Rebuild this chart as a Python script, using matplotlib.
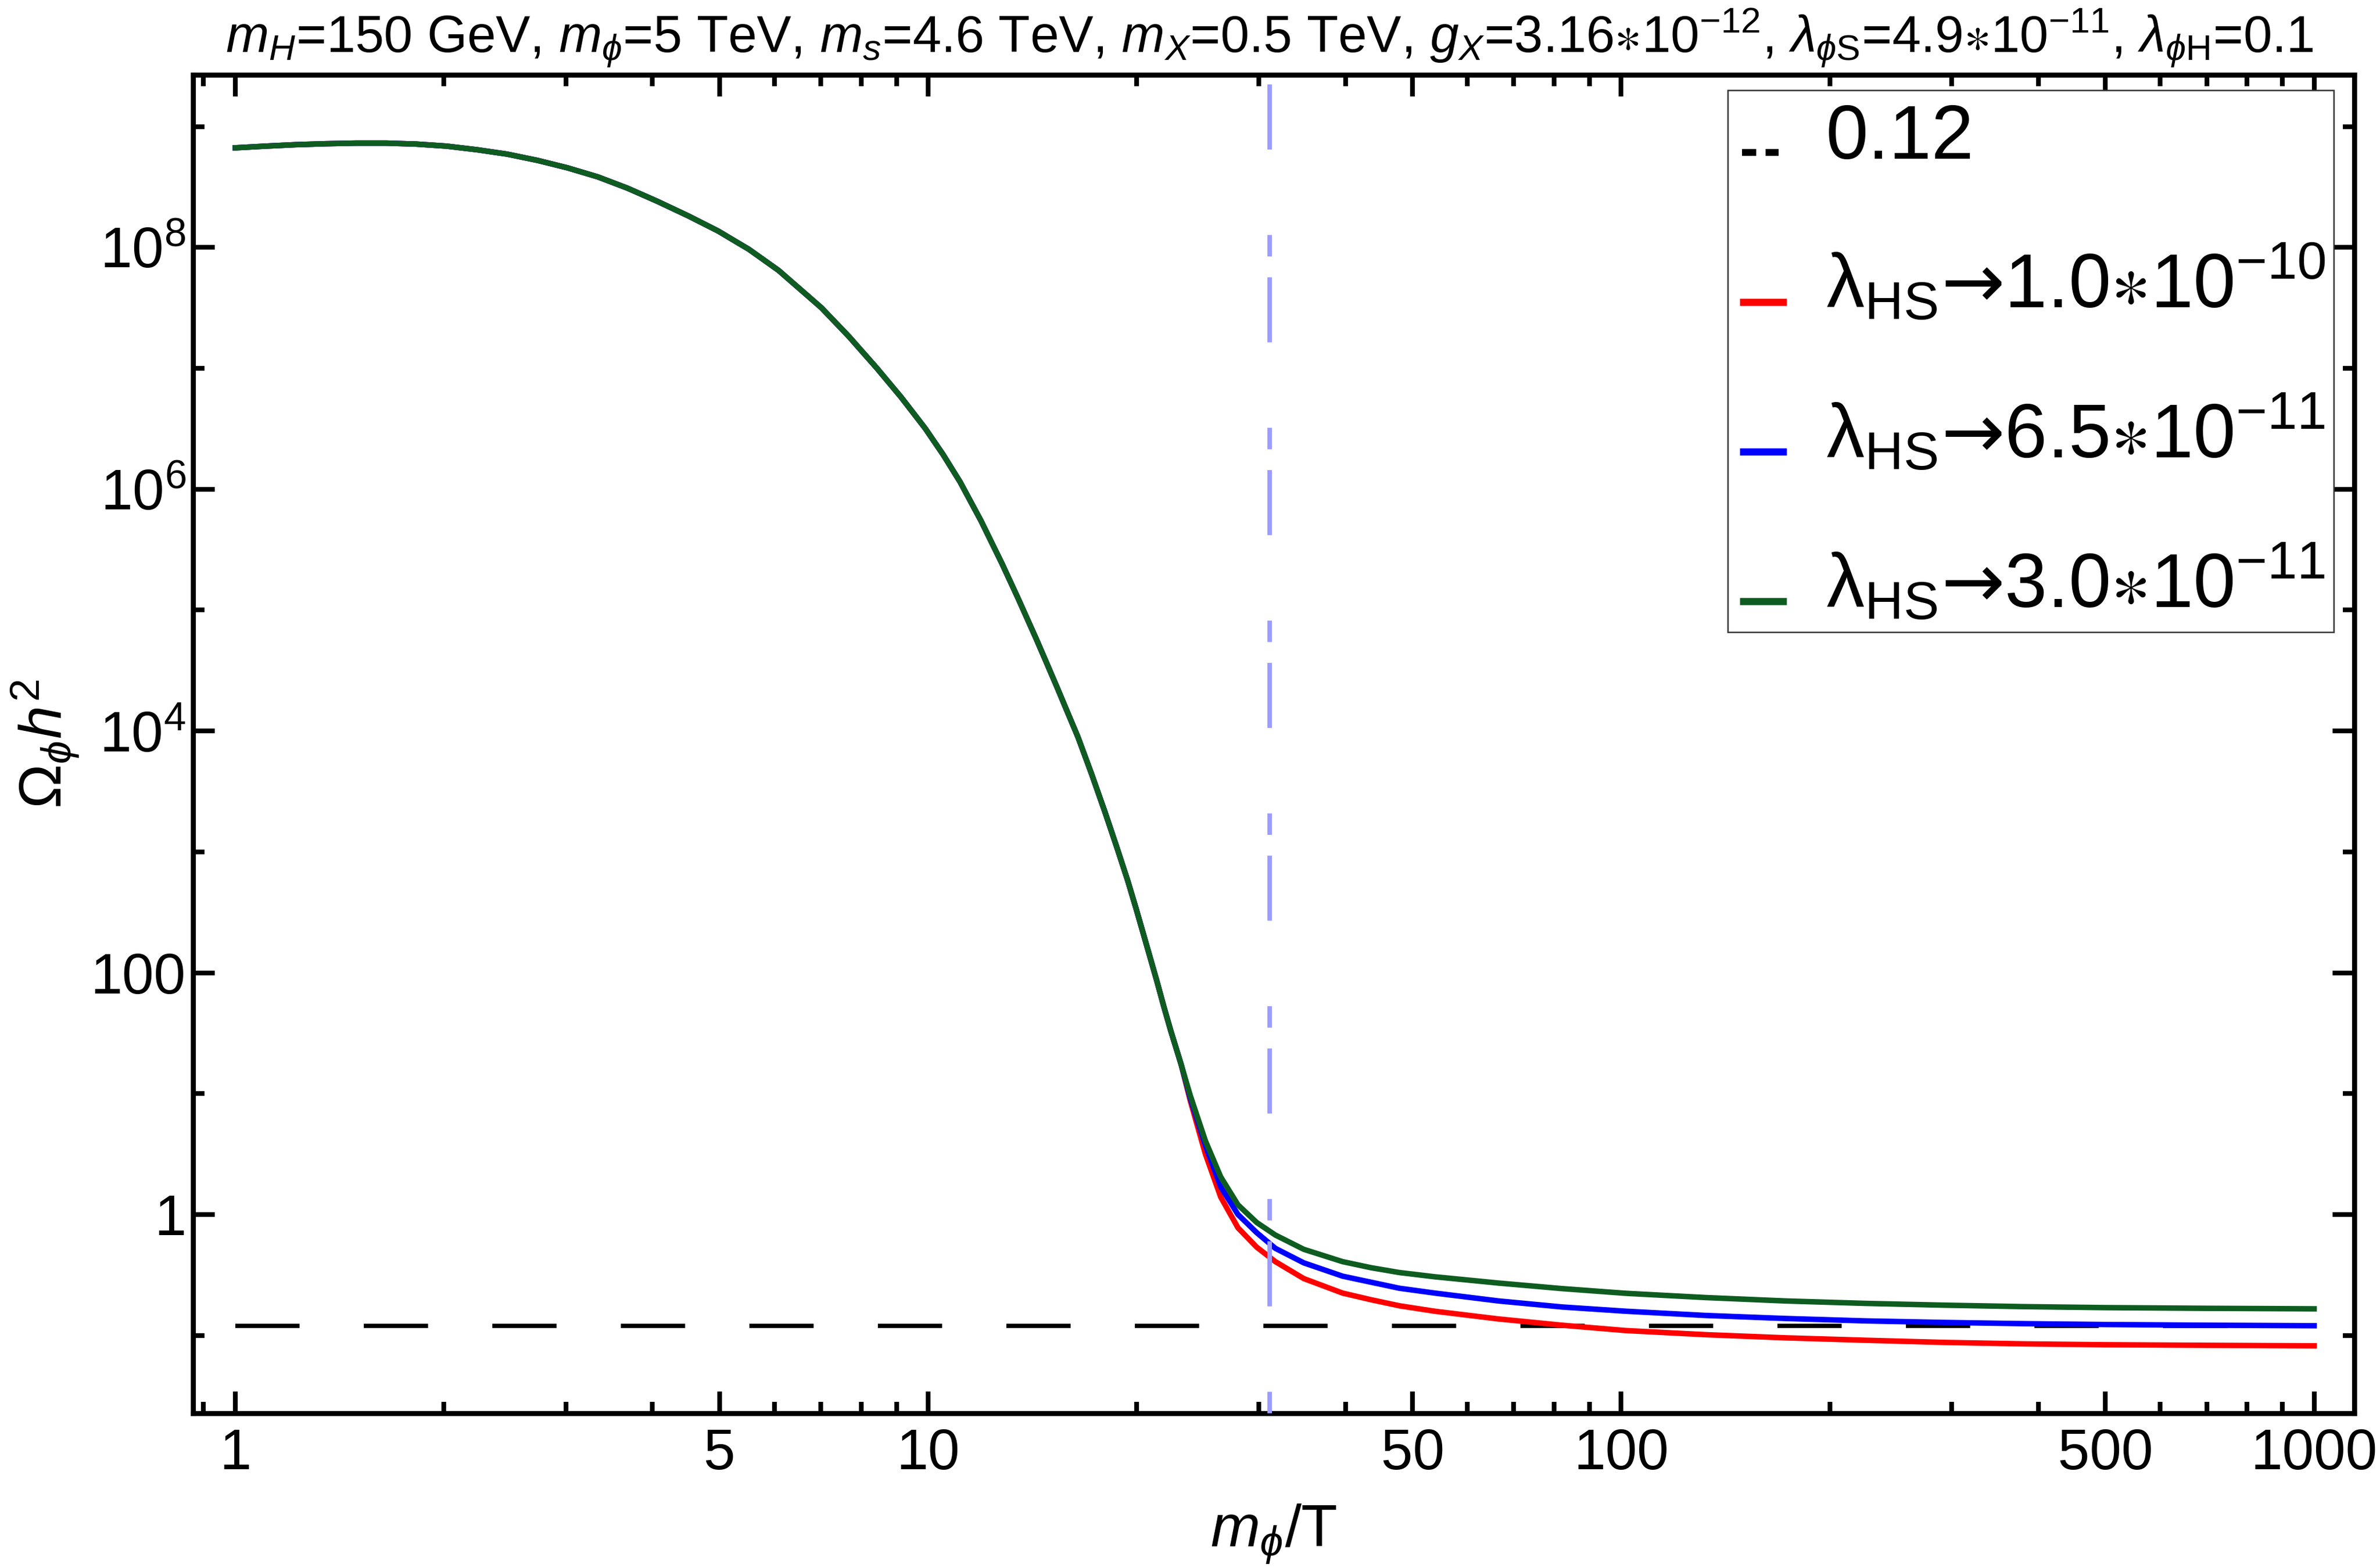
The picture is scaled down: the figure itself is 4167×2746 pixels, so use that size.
import numpy as np
import matplotlib
matplotlib.use('Agg')
import matplotlib.pyplot as plt
from matplotlib.lines import Line2D
from matplotlib.patches import Rectangle
from matplotlib.ticker import NullFormatter

# 字体设置（类似 Mathematica 的 Arial 风格）
plt.rcParams['font.family'] = ['Liberation Sans', 'DejaVu Sans']
plt.rcParams['mathtext.fontset'] = 'custom'
plt.rcParams['mathtext.rm'] = 'Liberation Sans'
plt.rcParams['mathtext.it'] = 'Liberation Sans:italic'
plt.rcParams['mathtext.bf'] = 'Liberation Sans:bold'
plt.rcParams['mathtext.sf'] = 'DejaVu Sans'
plt.rcParams['mathtext.fallback'] = 'stixsans'

# 数据：值（log10 m/T, log10 Omega h^2）
# 三条曲线在 m/T < 23 时重合
log_mT_common = [0.000, 0.044, 0.087, 0.131, 0.174, 0.218, 0.261, 0.305, 0.349, 0.392,
                 0.436, 0.479, 0.523, 0.566, 0.610, 0.654, 0.697, 0.741, 0.784, 0.846,
                 0.886, 0.926, 0.961, 0.996, 1.021, 1.046, 1.076, 1.106, 1.131, 1.156,
                 1.186, 1.216, 1.236, 1.255, 1.272, 1.288, 1.300, 1.313, 1.330, 1.340,
                 1.350, 1.365]
log_omega_common = [8.824, 8.838, 8.850, 8.858, 8.863, 8.863, 8.855, 8.838, 8.808, 8.772,
                    8.720, 8.659, 8.584, 8.490, 8.379, 8.260, 8.135, 7.985, 7.810, 7.500,
                    7.260, 7.000, 6.760, 6.500, 6.290, 6.060, 5.740, 5.390, 5.080, 4.760,
                    4.360, 3.950, 3.640, 3.330, 3.040, 2.760, 2.530, 2.270, 1.930, 1.720,
                    1.520, 1.240]

# 分叉之后的尾部
log_mT_tail = [1.378, 1.400, 1.422, 1.447, 1.474, 1.501, 1.542, 1.598, 1.639, 1.680,
               1.731, 1.823, 1.915, 2.007, 2.122, 2.237, 2.352, 2.467, 2.582, 2.697,
               2.850, 3.000]
log_omega_red_tail = [0.945, 0.500, 0.145, -0.110, -0.270, -0.390, -0.530, -0.650, -0.705,
                      -0.755, -0.800, -0.864, -0.916, -0.960, -0.994, -1.020, -1.040,
                      -1.058, -1.070, -1.077, -1.082, -1.086]
log_omega_blue_tail = [0.965, 0.570, 0.230, 0.000, -0.150, -0.280, -0.400, -0.510, -0.560,
                       -0.610, -0.650, -0.715, -0.765, -0.800, -0.835, -0.860, -0.880,
                       -0.893, -0.903, -0.910, -0.916, -0.920]
log_omega_green_tail = [0.987, 0.609, 0.312, 0.080, -0.066, -0.170, -0.288, -0.390, -0.440,
                        -0.480, -0.515, -0.567, -0.613, -0.652, -0.687, -0.715, -0.735,
                        -0.750, -0.762, -0.770, -0.776, -0.780]

series_labels = ['λ$_\\mathrm{HS}\\mathsf{→}$1.0${\\ast}$10$^{-10}$',
                 'λ$_\\mathrm{HS}\\mathsf{→}$6.5${\\ast}$10$^{-11}$',
                 'λ$_\\mathrm{HS}\\mathsf{→}$3.0${\\ast}$10$^{-11}$']
series_colors = ['#ff0000', '#0000ff', '#0e5c20']

omega_obs = 0.12          # 观测值
mT_range = (1, 1000)
mT_vline = 31.1           # 竖直虚线位置

x_major = [1, 5, 10, 50, 100, 500, 1000]
x_minor = [0.9, 2, 3, 4, 6, 7, 8, 9, 20, 30, 40, 60, 70, 80, 90,
           200, 300, 400, 600, 700, 800, 900]
y_major = [1, 1e2, 1e4, 1e6, 1e8]
y_major_labels = ['1', '100', '$10^{4}$', '$10^{6}$', '$10^{8}$']
y_minor = [1e-1, 1e1, 1e3, 1e5, 1e7, 1e9]

title = ('$m_H$=150 GeV, $m_\\phi$=5 TeV, $m_s$=4.6 TeV, $m_X$=0.5 TeV, '
         '$g_X$=3.16${\\ast}$10$^{-12}$, $\\lambda_{\\phi\\mathrm{S}}$=4.9${\\ast}$10$^{-11}$, '
         '$\\lambda_{\\phi\\mathrm{H}}$=0.1')

# 画图
W, H = 4167, 2746
fig = plt.figure(figsize=(W / 300, H / 300), dpi=300)
ax = fig.add_axes([338 / W, 1 - 2475 / H, (4122 - 338) / W, (2475 - 131) / H])

ax.hlines(omega_obs, mT_range[0], mT_range[1], colors='black', lw=1.8,
          linestyles=(0, (15, 15)), zorder=1)

tails = [log_omega_red_tail, log_omega_blue_tail, log_omega_green_tail]
for tail, col in zip(tails, series_colors):
    x = 10 ** np.array(log_mT_common + log_mT_tail)
    y = 10 ** np.array(log_omega_common + tail)
    ax.plot(x, y, color=col, lw=2.3, solid_joinstyle='round', zorder=2)

ax.axvline(mT_vline, color='#9d9dff', lw=1.9, dashes=(4.75, 18.9, 14.4, 4.6), zorder=3)

ax.set_xscale('log')
ax.set_yscale('log')
ax.set_xlim(10 ** -0.061, 10 ** 3.058)
ax.set_ylim(10 ** -1.644, 10 ** 9.428)

ax.set_xticks(x_major, [str(v) for v in x_major])
ax.set_xticks(x_minor, minor=True)
ax.set_yticks(y_major, y_major_labels)
ax.set_yticks(y_minor, minor=True)
ax.xaxis.set_minor_formatter(NullFormatter())
ax.yaxis.set_minor_formatter(NullFormatter())

ax.tick_params(which='both', direction='in', top=True, right=True, width=2.0,
               labelsize=24)
ax.tick_params(which='major', length=9.2)
ax.tick_params(which='minor', length=4.7)
ax.tick_params(axis='x', pad=6)
ax.tick_params(axis='y', pad=3)
for sp in ax.spines.values():
    sp.set_linewidth(2.1)

ax.set_xlabel('$m_\\phi$/T', fontsize=25)
ax.xaxis.set_label_coords(0.5, -0.067)
ax.set_ylabel('$\\Omega_\\phi h^2$', fontsize=25)
ax.yaxis.set_label_coords(-0.052, 0.5)

fig.text(2223 / W, 1 - 92 / H, title, fontsize=21.7, ha='center', va='baseline')

# 图例（手动摆放，按像素位置）
def fx(px):
    return px / W


def fy(py):
    return 1 - py / H


fig.add_artist(Rectangle((fx(3025), fy(1107)), (4086 - 3025) / W, (1107 - 158) / H,
                         transform=fig.transFigure, facecolor='white',
                         edgecolor='#333333', lw=0.6, zorder=5))
legend_labels = [str(omega_obs)] + series_labels
legend_colors = ['black'] + series_colors
for i, (lab, col) in enumerate(zip(legend_labels, legend_colors)):
    base = 278 + 262 * i
    if i == 0:
        fig.add_artist(Line2D([fx(3050), fx(3114)], [fy(base - 11)] * 2, color=col,
                              lw=2.9, dashes=(2.05, 1.37), solid_capstyle='butt',
                              transform=fig.transFigure, zorder=6))
    else:
        fig.add_artist(Line2D([fx(3046), fx(3128)], [fy(base - 11)] * 2, color=col,
                              lw=3.0, solid_capstyle='butt',
                              transform=fig.transFigure, zorder=6))
    fig.text(fx(3197), fy(base), lab, fontsize=32, ha='left', va='baseline', zorder=6)

fig.savefig('out.png', dpi=300, facecolor='white')
